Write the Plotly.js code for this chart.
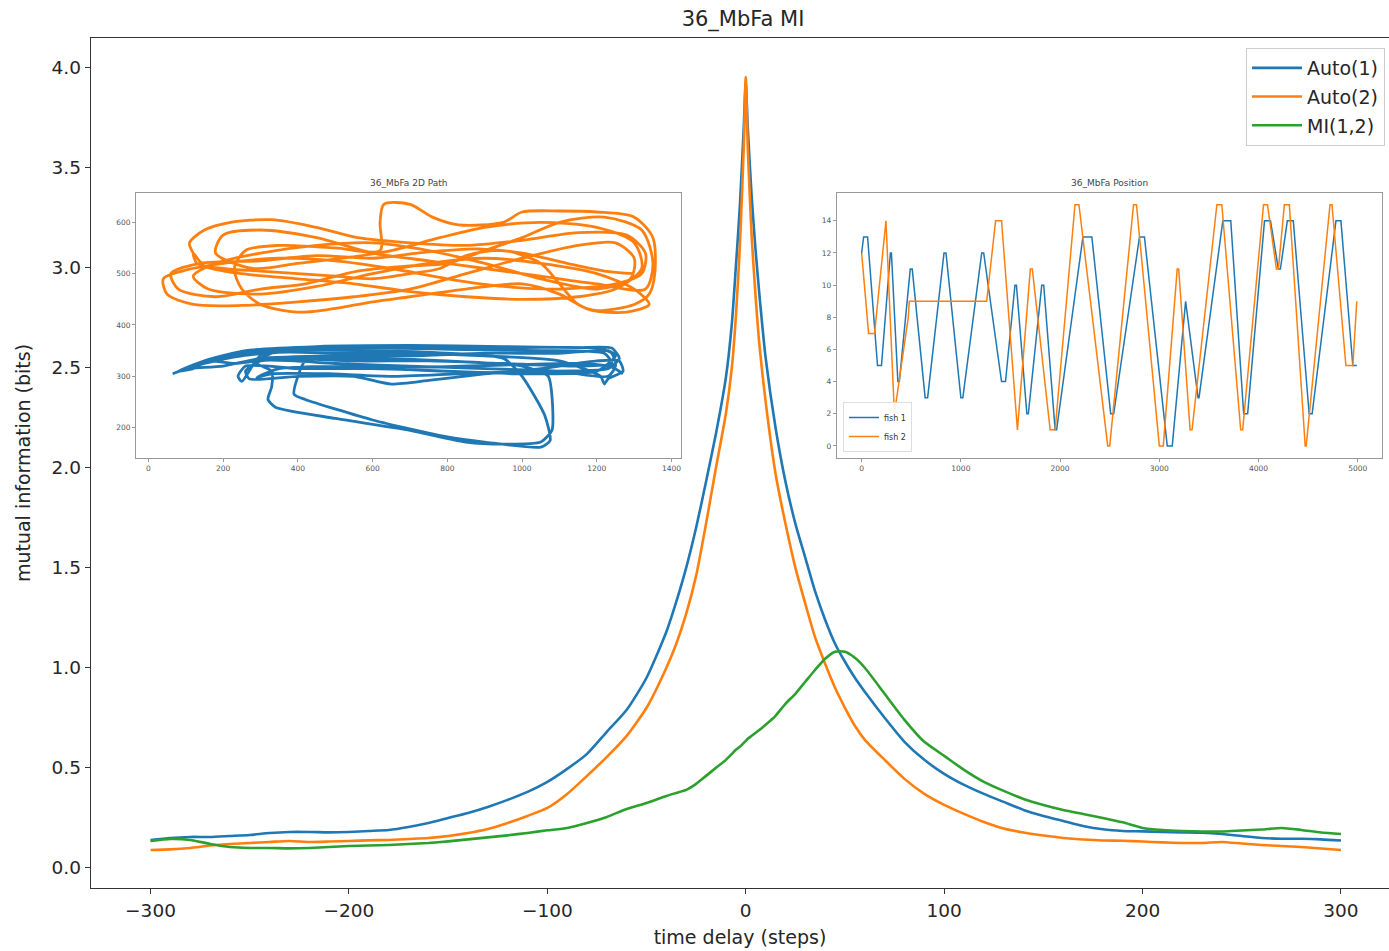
<!DOCTYPE html>
<html><head><meta charset="utf-8">
<script src="https://cdn.plot.ly/plotly-3.0.1.min.js"></script>
<style>html,body{margin:0;padding:0;background:#fff}#chart{width:1389px;height:951px}</style>
</head><body><div id="chart"></div>
<script>
// ---- main chart data ----
const delay = [-300,-290,-280,-270,-260,-250,-240,-230,-220,-210,-200,-190,-180,-170,-160,-150,-140,-130,-120,-110,-100,-90,-80,-70,-60,-50,-40,-35,-30,-25,-20,-15,-10,-7,-5,-3,-1,0,1,3,5,7,10,15,20,25,30,35,40,45,50,55,60,70,80,90,100,110,120,130,140,150,160,170,180,190,200,210,220,230,240,250,260,270,280,290,300];
const auto1 = [0.14,0.15,0.155,0.155,0.16,0.165,0.175,0.18,0.18,0.178,0.18,0.185,0.19,0.205,0.225,0.25,0.275,0.305,0.34,0.38,0.43,0.495,0.57,0.68,0.79,0.95,1.18,1.33,1.5,1.7,1.93,2.17,2.45,2.72,3.0,3.3,3.7,3.93,3.7,3.35,3.08,2.85,2.55,2.2,1.93,1.72,1.55,1.38,1.24,1.12,1.03,0.95,0.88,0.75,0.63,0.54,0.47,0.415,0.37,0.33,0.29,0.26,0.235,0.21,0.193,0.185,0.183,0.18,0.178,0.176,0.17,0.16,0.15,0.146,0.146,0.143,0.137];
const auto2 = [0.09,0.093,0.1,0.112,0.12,0.125,0.13,0.135,0.13,0.132,0.135,0.138,0.14,0.145,0.15,0.16,0.175,0.195,0.225,0.26,0.3,0.37,0.46,0.555,0.66,0.8,1.0,1.12,1.27,1.46,1.72,2.0,2.27,2.5,2.75,3.1,3.6,3.95,3.6,3.15,2.85,2.6,2.33,1.97,1.72,1.5,1.32,1.15,1.02,0.9,0.8,0.71,0.64,0.54,0.445,0.37,0.315,0.27,0.23,0.197,0.177,0.162,0.15,0.142,0.137,0.136,0.132,0.128,0.125,0.125,0.13,0.122,0.115,0.11,0.105,0.097,0.09];
const mi12 = [0.135,0.145,0.14,0.12,0.105,0.1,0.1,0.098,0.1,0.105,0.11,0.112,0.115,0.12,0.125,0.133,0.143,0.153,0.163,0.175,0.188,0.2,0.225,0.255,0.295,0.325,0.36,0.375,0.39,0.42,0.46,0.5,0.54,0.57,0.59,0.605,0.625,0.635,0.645,0.66,0.675,0.69,0.715,0.76,0.82,0.87,0.93,0.99,1.045,1.08,1.08,1.05,1.0,0.87,0.74,0.63,0.56,0.49,0.43,0.385,0.345,0.315,0.29,0.27,0.25,0.228,0.2,0.19,0.185,0.182,0.182,0.187,0.192,0.2,0.19,0.177,0.17];
const seriesNames = ["Auto(1)","Auto(2)","MI(1,2)"];
const yTickVals = [0,0.5,1,1.5,2,2.5,3,3.5,4];
const xTickVals = [-300,-200,-100,0,100,200,300];

// ---- inset 1: 2D path (fish 2 orange, fish 1 blue) ----
const path2X = [120,110,150,220,330,450,560,700,850,1000,1150,1280,1330,1320,1250,1100,950,800,650,500,350,200,90,40,50,120,250,400,550,700,850,1000,1150,1250,1300,1290,1200,1050,900,750,600,450,300,180,120,160,300,450,600,750,900,1050,1200,1300,1340,1280,1180,1100,1000,850,700,600,480,400,300,250,230,260,350,500,620,620,630,700,760,830,950,1000,1100,1200,1300,1350,1355,1340,1300,1200,1150,1100,1050,950,850,780,700,600,500,400,300,200,130,120,150,250,400,550,700,850,1000,1150,1250,1320,1300,1200,1050,900,780,650,520,400,280,180,200,300,450,600,750,900,1050,1200,1330,1350,1320,1220,1100,1000,900,800,700,560,420,300,180,80,60,140,300,450,600,720,880,1000,1120,1220,1300];
const path2Y = [540,560,585,600,605,590,570,560,555,565,580,575,540,500,480,470,475,490,510,525,530,520,505,490,460,440,438,445,455,470,500,530,555,560,530,490,470,490,520,545,560,555,540,520,495,470,460,475,500,520,530,520,500,470,440,425,430,460,480,470,455,445,430,425,440,470,510,545,555,550,545,600,635,635,610,595,600,620,622,620,610,570,500,460,440,428,440,480,520,545,535,510,500,490,495,500,505,510,520,540,515,500,490,480,465,455,450,455,470,510,560,590,600,590,570,545,530,520,510,540,575,585,570,540,525,510,495,480,470,520,585,610,600,570,545,520,515,505,480,470,455,470,500,520,525,535,530,540,548,540,520,505,500];
const path1X = [65,120,200,260,400,600,800,1000,1200,1240,1250,1230,1100,900,700,500,300,260,270,400,550,650,750,900,1050,1200,1260,1270,1230,1220,1210,1100,900,700,500,330,290,330,330,320,340,500,700,850,950,1050,1080,1080,1070,1000,800,600,420,400,390,420,600,800,900,1050,1075,1060,1000,950,800,600,400,250,150,80,100,200,300,500,700,900,1100,1230,1250,1200,1000,800,600,400,260,240,250,300,450,650,850,1050,1220,1240,1150,950,750,550,350,230,160,120,80,150,260,450,700,950,1150,1240,1260,1230,1030,830,650,480,330,290,350,550,750,950,1150,1240,1270];
const path1Y = [305,320,335,345,355,358,357,356,355,345,320,300,310,315,320,325,330,310,295,300,300,285,292,305,315,330,330,310,295,285,300,330,340,345,345,345,325,310,280,255,240,218,195,172,168,172,195,260,300,320,330,335,330,300,265,255,215,182,172,162,175,225,300,335,345,350,350,340,325,310,315,320,335,340,340,345,345,350,340,310,305,310,315,315,320,300,290,340,352,355,352,350,345,325,320,325,330,330,335,325,330,315,310,330,350,358,360,358,356,355,335,315,310,305,300,305,305,298,315,320,318,322,325,318,305];

// ---- inset 2: position over time (turning points) ----
const pos1T = [0,20,60,160,200,290,300,365,380,490,510,640,665,830,850,1000,1020,1210,1230,1410,1450,1545,1560,1665,1680,1815,1835,1950,1965,2230,2320,2510,2540,2800,2850,3080,3130,3260,3265,3390,3400,3640,3720,3850,3890,4060,4120,4200,4220,4290,4350,4510,4540,4780,4830,4950,4990];
const pos1V = [12,13,13,5,5,12,12,4,4,11,11,3,3,12,12,3,3,12,12,4,4,10,10,2,2,10,10,1,1,13,13,2,2,13,13,0,0,9,9,3,3,14,14,2,2,14,14,11,11,14,14,2,2,14,14,5,5];
const pos2T = [0,70,130,245,330,470,480,1260,1350,1410,1570,1700,1720,1900,1950,2150,2190,2480,2500,2740,2770,3000,3040,3180,3195,3310,3330,3580,3630,3820,3840,4050,4090,4180,4200,4260,4310,4470,4480,4720,4740,4880,4950,4990];
const pos2V = [12,7,7,14,2,8,9,9,14,14,1,11,11,1,1,15,15,0,0,15,15,0,0,11,11,1,1,15,15,1,1,15,15,11,11,15,15,0,0,15,15,5,5,9];

const C = ['#1f77b4','#ff7f0e','#2ca02c'];
const FONT = 'DejaVu Sans, Verdana, sans-serif';

const traces = [
  {x: delay, y: auto1, name: seriesNames[0], mode:'lines', line:{color:C[0], width:2.6, shape:'spline', smoothing:0.6}, legendgroup:'a'},
  {x: delay, y: auto2, name: seriesNames[1], mode:'lines', line:{color:C[1], width:2.6, shape:'spline', smoothing:0.6}, legendgroup:'b'},
  {x: delay, y: mi12, name: seriesNames[2], mode:'lines', line:{color:C[2], width:2.6, shape:'spline', smoothing:0.6}, legendgroup:'c'},
  {x: path2X, y: path2Y, xaxis:'x2', yaxis:'y2', mode:'lines', line:{color:C[1], width:2.8, shape:'spline', smoothing:0.8}, showlegend:false},
  {x: path1X, y: path1Y, xaxis:'x2', yaxis:'y2', mode:'lines', line:{color:C[0], width:2.8, shape:'spline', smoothing:0.6}, showlegend:false},
  {x: pos1T, y: pos1V, xaxis:'x3', yaxis:'y3', mode:'lines', name:'fish 1', line:{color:C[0], width:1.5}, legend:'legend2'},
  {x: pos2T, y: pos2V, xaxis:'x3', yaxis:'y3', mode:'lines', name:'fish 2', line:{color:C[1], width:1.5}, legend:'legend2'}
];

const insetAxis = {showline:true, mirror:true, linecolor:'#999', linewidth:1, ticks:'outside', ticklen:3, tickcolor:'#999', tickfont:{size:7.5, color:'#555', family:FONT}, showgrid:false, zeroline:false};

const layout = {
  width:1389, height:951,
  margin:{l:91, r:0, t:38, b:63},
  paper_bgcolor:'#fff', plot_bgcolor:'#fff',
  font:{family:FONT, color:'#262626'},
  title:{text:'36_MbFa MI', font:{size:21, family:FONT, color:'#262626'}, x:0.5023, xref:'paper', xanchor:'center', y:1-19/951, yref:'container', yanchor:'middle'},
  xaxis:{range:[-330,324.2], tickvals:xTickVals, ticks:'outside', ticklen:5, tickcolor:'#333', showline:true, mirror:true, linecolor:'#333', linewidth:1.3, showgrid:false, zeroline:false, tickfont:{size:18.5, family:FONT, color:'#262626'}, title:{text:'time delay (steps)', font:{size:19, family:FONT, color:'#262626'}, standoff:11}},
  yaxis:{range:[-0.1,4.145], tickvals:yTickVals, tickformat:'.1f', ticks:'outside', ticklen:5, tickcolor:'#333', showline:true, mirror:false, linecolor:'#333', linewidth:1.3, showgrid:false, zeroline:false, tickfont:{size:18.5, family:FONT, color:'#262626'}, title:{text:'mutual information (bits)', font:{size:19, family:FONT, color:'#262626'}, standoff:16}},
  xaxis2:Object.assign({}, insetAxis, {domain:[0.0347,0.4545], anchor:'y2', range:[-33,1425], tickvals:[0,200,400,600,800,1000,1200,1400]}),
  yaxis2:Object.assign({}, insetAxis, {domain:[0.5059,0.818], anchor:'x2', range:[141,657.6], tickvals:[200,300,400,500,600]}),
  xaxis3:Object.assign({}, insetAxis, {domain:[0.5746,0.9943], anchor:'y3', range:[-250,5240], tickvals:[0,1000,2000,3000,4000,5000]}),
  yaxis3:Object.assign({}, insetAxis, {domain:[0.5059,0.818], anchor:'x3', range:[-0.75,15.75], tickvals:[0,2,4,6,8,10,12,14]}),
  legend:{x:(1246-91)/1298, y:(888-48)/850, xanchor:'left', yanchor:'top', bgcolor:'rgba(255,255,255,0.9)', bordercolor:'#ccc', borderwidth:1, font:{size:19, family:FONT, color:'#262626'}, traceorder:'grouped', tracegroupgap:1, itemwidth:50},
  legend2:{x:(843-91)/1298, y:(888-452)/850, xanchor:'left', yanchor:'bottom', bgcolor:'rgba(255,255,255,0.9)', bordercolor:'#ddd', borderwidth:1, font:{size:8, family:FONT, color:'#333'}},
  annotations:[
    {text:'36_MbFa 2D Path', xref:'paper', yref:'paper', x:(408-91)/1298, y:(888-183)/850, xanchor:'center', yanchor:'middle', showarrow:false, font:{size:9, family:FONT, color:'#444'}},
    {text:'36_MbFa Position', xref:'paper', yref:'paper', x:(1109-91)/1298, y:(888-183)/850, xanchor:'center', yanchor:'middle', showarrow:false, font:{size:9, family:FONT, color:'#444'}}
  ]
};

Plotly.newPlot('chart', traces, layout, {staticPlot:true, displayModeBar:false});
</script>
</body></html>
